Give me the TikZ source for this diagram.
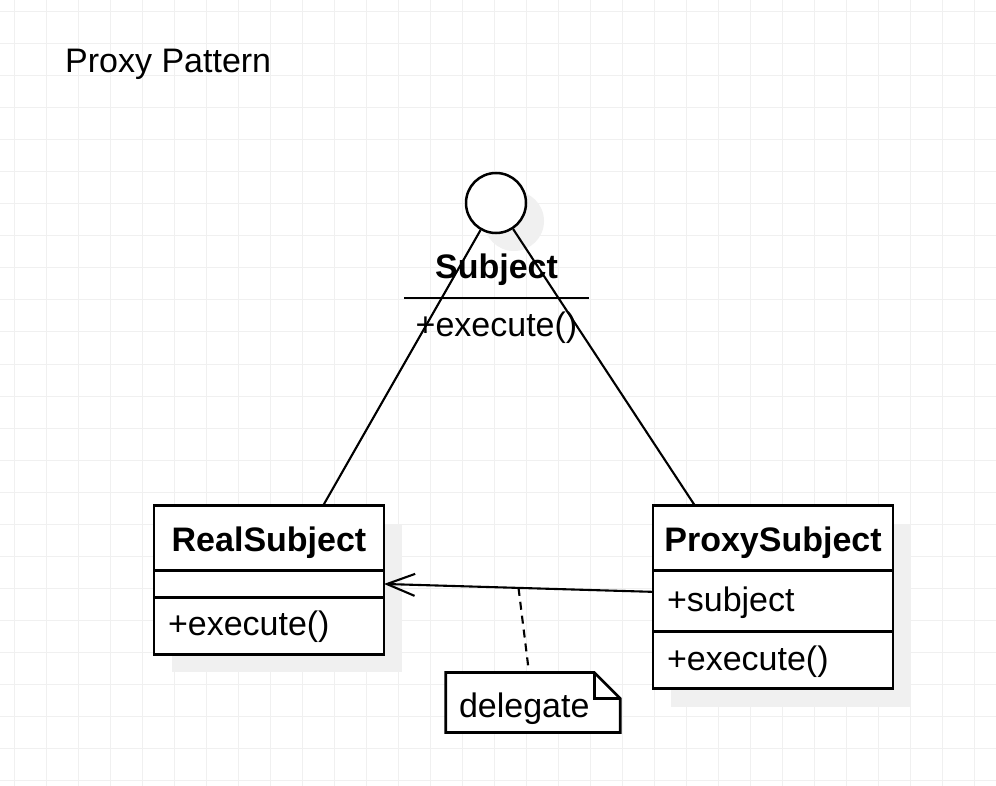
\documentclass[tikz,border=0pt]{standalone}
\usepackage{fontspec}
\setmainfont{Liberation Sans}
\usetikzlibrary{arrows.meta,shadows,positioning,backgrounds}
\newcommand{\umlfont}{\fontsize{34pt}{41pt}\selectfont}

\begin{document}
\begin{tikzpicture}[x=1pt,y=-1pt]

  % canvas with grid
  \useasboundingbox (0,0) rectangle (996,786);
  \begin{scope}[on background layer]
    \fill[white] (0,0) rectangle (996,786);
    \foreach \i in {0,...,30}
      \draw[black!6,line width=1pt] (14.5+32*\i,0) -- (14.5+32*\i,786);
    \foreach \j in {0,...,24}
      \draw[black!6,line width=1pt] (0,12+32*\j) -- (996,12+32*\j);
  \end{scope}

  % node styles
  \tikzstyle{Part}=[
  draw, fill=white,
  line width=2.9pt,
  shape=rectangle,
  outer sep=0pt,
  inner sep=0pt,
  font=\umlfont,
  drop shadow={shadow xshift=18pt,shadow yshift=-18pt,fill=black!6,opacity=1}]

  \tikzstyle{Head}=[Part,font=\umlfont\bfseries,
  text height=26.5pt,text depth=0pt,minimum height=65pt]

  \tikzstyle{Item}=[Part,align=left,inner xsep=14pt,
  text height=24pt,text depth=4pt]

  \tikzstyle{Note}=[font=\umlfont,align=left,
  inner xsep=13pt,inner ysep=0pt,text width=148pt,
  minimum height=59.6pt,text height=29pt,text depth=0pt]

  \tikzstyle{Link}=[line width=2.1pt]

  % title
  \node[font=\umlfont,anchor=base west,inner sep=0pt] (T) at (65,73) {Proxy Pattern};

  % interface
  \node[circle,draw,fill=white,line width=2.5pt,minimum size=60pt,inner sep=0pt,
    drop shadow={shadow xshift=18pt,shadow yshift=-18pt,fill=black!6,opacity=1}]
    (I) at (496,203) {};
  \node[font=\umlfont\bfseries,anchor=south,inner sep=0pt,outer sep=0pt,
    text height=26.5pt,text depth=0pt,minimum height=65pt] (S) at (496.5,298) {Subject};
  \node[font=\umlfont,below=0pt of S,inner sep=0pt,outer sep=0pt,
    text height=24pt,text depth=3pt,minimum width=185pt,minimum height=56pt] (SO) {+execute()};
  \draw[line width=2.5pt] (SO.north west) -- (SO.north east);

  % classes
  \node[Head,minimum width=230pt] (RT) at (269,538.3) {RealSubject};
  \node[Part,below=0pt of RT,minimum width=230pt,minimum height=26.3pt] (RA) {};
  \node[Item,below=0pt of RA,text width=202pt,minimum height=57pt] (RO) {+execute()};

  \node[Head,minimum width=240pt] (PT) at (773,538.3) {ProxySubject};
  \node[Item,below=0pt of PT,text width=212pt,minimum height=60.7pt] (PA) {+subject};
  \node[Item,below=0pt of PA,text width=212pt,minimum height=57.3pt] (PO) {+execute()};

  % note
  \node[Note] (N) at (533,702.5) {delegate};
  \begin{scope}[on background layer]
    \draw[line width=2.7pt,fill=white] (N.north west) -- ([xshift=-26pt]N.north east)
      -- ([yshift=-26pt]N.north east) -- (N.south east) -- (N.south west) -- cycle;
  \end{scope}
  \draw[line width=2.7pt] ([xshift=-26pt]N.north east) |- ([yshift=-26pt]N.north east);

  % connectors
  \draw[Link] (I) -- ([xshift=54pt]RT.north);
  \draw[Link] (I) -- ([xshift=-78pt]PT.north);
  \draw[Link,-{Straight Barb[length=28pt,width=22pt]}]
    ([yshift=9.3pt]PA.west) -- (RA.east) coordinate[pos=0.5] (M);
  \draw[Link,dash pattern=on 8pt off 6pt] (M) -- ([xshift=-4pt]N.north);

\end{tikzpicture}
\end{document}
